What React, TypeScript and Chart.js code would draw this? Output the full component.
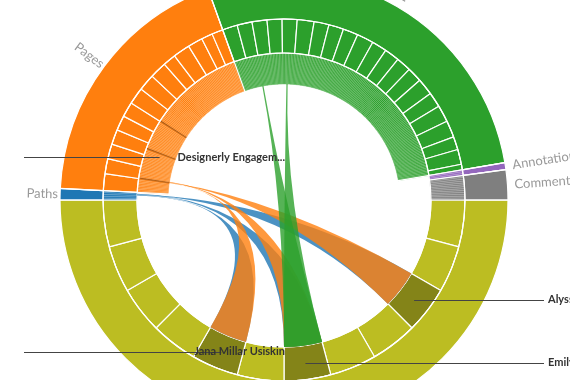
import React, { useEffect, useRef } from "react";
import { Chart, registerables } from "chart.js";

Chart.register(...registerables);

// ---- data ----
const groupNames = ["People", "Paths", "Pages", "Highlights", "Annotations", "Comments"];
const groupColors = ["#bcbd22", "#1f77b4", "#ff7f0e", "#2ca02c", "#9467bd", "#7f7f7f"];

const peopleNames = [
  "Participant 1", "Participant 2", "Alyssa", "Participant 4", "Participant 5", "Emily",
  "Participant 7", "Jana Millar Usiskin", "Participant 9", "Participant 10", "Participant 11", "Participant 12",
];
const highlightedPeople = [2, 5, 7];

const pathsLeafCount = 5;
const pagesCellSizes = [9, 8, 8, 8, 8, 8, 9, 9, 9, 7, 9, 8, 6, 6];
const highlightsCellSizes = [8, 8, 8, 8, 8, 9, 8, 8, 8, 9, 8, 8, 8, 8, 9, 8, 9, 9, 7, 8, 3];
const annotationsLeafCount = 3;
const commentsLeafCount = 13;
const highlightedPageLeaves = [9, 29, 49];

// links: source group / leaf within that group -> person
const linkGroup = ["Paths", "Paths", "Paths", "Pages", "Pages", "Pages", "Highlights", "Highlights"];
const linkLeaf = [3, 3, 3, 9, 9, 9, 15, 35];
const linkPerson = [7, 2, 5, 7, 2, 5, 5, 5];

// labelled leaves
const pageLeafLabelIndex = [26];
const pageLeafLabelText = ["Designerly Engagem..."];

// ---- helpers ----
const sum = (a: number[]) => a.reduce((s, v) => s + v, 0);
function rgb(hex: string) {
  const n = parseInt(hex.slice(1), 16);
  return [(n >> 16) & 255, (n >> 8) & 255, n & 255];
}
function darker(hex: string) {
  const [r, g, b] = rgb(hex).map((v) => Math.round(v * 0.7));
  return `rgb(${r},${g},${b})`;
}
function lighter(hex: string, t: number) {
  const [r, g, b] = rgb(hex).map((v) => Math.round(v + (255 - v) * t));
  return `rgb(${r},${g},${b})`;
}
function rgba(hex: string, a: number) {
  const [r, g, b] = rgb(hex);
  return `rgba(${r},${g},${b},${a})`;
}

const LEAF_BW = 0.6;

export default function App() {
  const ref = useRef<HTMLCanvasElement>(null);

  useEffect(() => {
    const canvas = ref.current!;
    const itemsTotal =
      pathsLeafCount + sum(pagesCellSizes) + sum(highlightsCellSizes) + annotationsLeafCount + commentsLeafCount;
    const personWeight = itemsTotal / peopleNames.length;

    // ring 0: groups
    const r0: number[] = [
      personWeight * peopleNames.length,
      pathsLeafCount,
      sum(pagesCellSizes),
      sum(highlightsCellSizes),
      annotationsLeafCount,
      commentsLeafCount,
    ];
    const r0c = groupColors.slice();

    // ring 1 & 2
    const r1: number[] = [], r1c: string[] = [], r1b: number[] = [], r1bc: string[] = [];
    const r2: number[] = [], r2c: string[] = [], r2b: number[] = [], r2bc: string[] = [];
    const leafStart: Record<string, { ds: number; start: number }> = {};

    peopleNames.forEach((_, i) => {
      r1.push(personWeight);
      r1c.push(highlightedPeople.includes(i) ? darker(groupColors[0]) : groupColors[0]);
      r1b.push(1.2); r1bc.push("#fff");
    });
    r2.push(personWeight * peopleNames.length); r2c.push("rgba(0,0,0,0)"); r2b.push(0); r2bc.push("#fff");

    leafStart["Paths"] = { ds: 1, start: r1.length };
    for (let i = 0; i < pathsLeafCount; i++) { r1.push(1); r1c.push(groupColors[1]); r1b.push(LEAF_BW); r1bc.push(lighter(groupColors[1], 0.35)); }
    r2.push(pathsLeafCount); r2c.push("rgba(0,0,0,0)"); r2b.push(0); r2bc.push("#fff");

    pagesCellSizes.forEach((s) => { r1.push(s); r1c.push(groupColors[2]); r1b.push(1.2); r1bc.push("#fff"); });
    leafStart["Pages"] = { ds: 2, start: r2.length };
    for (let i = 0; i < sum(pagesCellSizes); i++) {
      const hl = highlightedPageLeaves.includes(i);
      r2.push(1);
      r2c.push(hl ? darker(groupColors[2]) : groupColors[2]);
      r2b.push(LEAF_BW); r2bc.push(hl ? darker(groupColors[2]) : lighter(groupColors[2], 0.35));
    }

    highlightsCellSizes.forEach((s) => { r1.push(s); r1c.push(groupColors[3]); r1b.push(1.2); r1bc.push("#fff"); });
    leafStart["Highlights"] = { ds: 2, start: r2.length };
    for (let i = 0; i < sum(highlightsCellSizes); i++) { r2.push(1); r2c.push(groupColors[3]); r2b.push(LEAF_BW); r2bc.push(lighter(groupColors[3], 0.35)); }

    leafStart["Annotations"] = { ds: 1, start: r1.length };
    for (let i = 0; i < annotationsLeafCount; i++) { r1.push(1); r1c.push(groupColors[4]); r1b.push(LEAF_BW); r1bc.push(lighter(groupColors[4], 0.35)); }
    r2.push(annotationsLeafCount); r2c.push("rgba(0,0,0,0)"); r2b.push(0); r2bc.push("#fff");

    leafStart["Comments"] = { ds: 1, start: r1.length };
    for (let i = 0; i < commentsLeafCount; i++) { r1.push(1); r1c.push(groupColors[5]); r1b.push(LEAF_BW); r1bc.push(lighter(groupColors[5], 0.35)); }
    r2.push(commentsLeafCount); r2c.push("rgba(0,0,0,0)"); r2b.push(0); r2bc.push("#fff");

    const overlay = {
      id: "chordOverlay",
      afterDatasetsDraw(chart: any) {
        const ctx = chart.ctx as CanvasRenderingContext2D;
        const m0 = chart.getDatasetMeta(0).data as any[];
        const m1 = chart.getDatasetMeta(1).data as any[];
        const metas = [m0, m1, chart.getDatasetMeta(2).data as any[]];
        const cx = m0[0].x, cy = m0[0].y;

        // white separators: outer ring / inner rings, and between group blocks in ring 2
        ctx.save();
        ctx.strokeStyle = "#fff";
        ctx.lineWidth = 1.2;
        ctx.beginPath();
        ctx.arc(cx, cy, m1[0].outerRadius, 0, Math.PI * 2);
        ctx.stroke();
        ctx.beginPath();
        ctx.arc(cx, cy, m1[0].innerRadius, 0, Math.PI * 2);
        ctx.stroke();
        m0.forEach((el: any) => {
          ctx.beginPath();
          ctx.moveTo(cx + el.innerRadius * 0.5 * Math.cos(el.startAngle), cy + el.innerRadius * 0.5 * Math.sin(el.startAngle));
          ctx.lineTo(cx + el.outerRadius * Math.cos(el.startAngle), cy + el.outerRadius * Math.sin(el.startAngle));
          ctx.stroke();
        });
        ctx.restore();

        // subdivide source leaves among their links
        const counts: Record<string, number> = {};
        const used: Record<string, number> = {};
        linkGroup.forEach((g, i) => {
          const k = g + ":" + linkLeaf[i];
          counts[k] = (counts[k] || 0) + 1;
        });

        ctx.save();
        linkGroup.forEach((g, i) => {
          const ls = leafStart[g];
          const el = metas[ls.ds][ls.start + linkLeaf[i]];
          const k = g + ":" + linkLeaf[i];
          const n = counts[k];
          const u = used[k] || 0;
          used[k] = u + 1;
          const span = (el.endAngle - el.startAngle) / n;
          const s0 = el.startAngle + span * u, s1 = s0 + span;
          const rs = el.innerRadius;
          const t = m1[linkPerson[i]];
          const t0 = t.startAngle, t1 = t.endAngle, rt = t.innerRadius;
          ctx.beginPath();
          ctx.moveTo(cx + rs * Math.cos(s0), cy + rs * Math.sin(s0));
          ctx.arc(cx, cy, rs, s0, s1);
          ctx.quadraticCurveTo(cx, cy, cx + rt * Math.cos(t0), cy + rt * Math.sin(t0));
          ctx.arc(cx, cy, rt, t0, t1);
          ctx.quadraticCurveTo(cx, cy, cx + rs * Math.cos(s0), cy + rs * Math.sin(s0));
          ctx.closePath();
          ctx.fillStyle = rgba(groupColors[groupNames.indexOf(g)], 0.8);
          ctx.fill();
        });

        // group labels (radial)
        ctx.font = "13px Lato";
        ctx.fillStyle = "#999";
        ctx.textBaseline = "middle";
        m0.forEach((el, i) => {
          const a = (el.startAngle + el.endAngle) / 2;
          ctx.save();
          ctx.translate(cx, cy);
          if (Math.cos(a) < 0) {
            ctx.rotate(a + Math.PI);
            ctx.textAlign = "right";
            ctx.fillText(groupNames[i], -(el.outerRadius + 2), 0);
          } else {
            ctx.rotate(a);
            ctx.textAlign = "left";
            ctx.fillText(groupNames[i], el.outerRadius + 7, 0);
          }
          ctx.restore();
        });

        // item labels with leader lines
        const items: { el: any; text: string }[] = [];
        pageLeafLabelIndex.forEach((li, j) =>
          items.push({ el: metas[leafStart["Pages"].ds][leafStart["Pages"].start + li], text: pageLeafLabelText[j] })
        );
        highlightedPeople.forEach((p) => items.push({ el: m1[p], text: peopleNames[p] }));
        ctx.font = "bold 11px Lato";
        items.forEach(({ el, text }) => {
          const a = (el.startAngle + el.endAngle) / 2;
          const r = (el.innerRadius + el.outerRadius) / 2;
          const px = cx + r * Math.cos(a), py = cy + r * Math.sin(a);
          ctx.strokeStyle = "#444";
          ctx.lineWidth = 1;
          ctx.beginPath();
          if (Math.cos(a) < 0) {
            ctx.moveTo(cx - 260, Math.round(py) + 0.5);
            ctx.lineTo(px, Math.round(py) + 0.5);
            ctx.stroke();
            ctx.fillStyle = "#333";
            ctx.textAlign = "right";
            ctx.fillText(text, cx + 1, py);
          } else {
            ctx.moveTo(px, Math.round(py) + 0.5);
            ctx.lineTo(cx + 260, Math.round(py) + 0.5);
            ctx.stroke();
            ctx.fillStyle = "#333";
            ctx.textAlign = "left";
            ctx.fillText(text, cx + 264, py);
          }
        });
        ctx.restore();
      },
    };

    const chart = new Chart(canvas, {
      type: "doughnut",
      data: {
        labels: [],
        datasets: [
          { data: r0, backgroundColor: r0c, borderColor: "#fff", borderWidth: 1.2, weight: 43 } as any,
          { data: r1, backgroundColor: r1c, borderColor: r1bc, borderWidth: r1b, weight: 34 } as any,
          { data: r2, backgroundColor: r2c, borderColor: r2bc, borderWidth: r2b, weight: 31 } as any,
        ],
      },
      options: {
        animation: false,
        responsive: true,
        maintainAspectRatio: false,
        events: [],
        rotation: 90,
        radius: 224,
        cutout: "51.79%",
        layout: { padding: { top: 20, right: 2, left: 0, bottom: 0 } },
        plugins: { legend: { display: false }, tooltip: { enabled: false } },
      } as any,
      plugins: [overlay],
    });
    return () => chart.destroy();
  }, []);

  return (
    <div style={{ position: "fixed", left: 0, top: 0, width: 570, height: 380 }}>
      <canvas ref={ref} />
    </div>
  );
}
